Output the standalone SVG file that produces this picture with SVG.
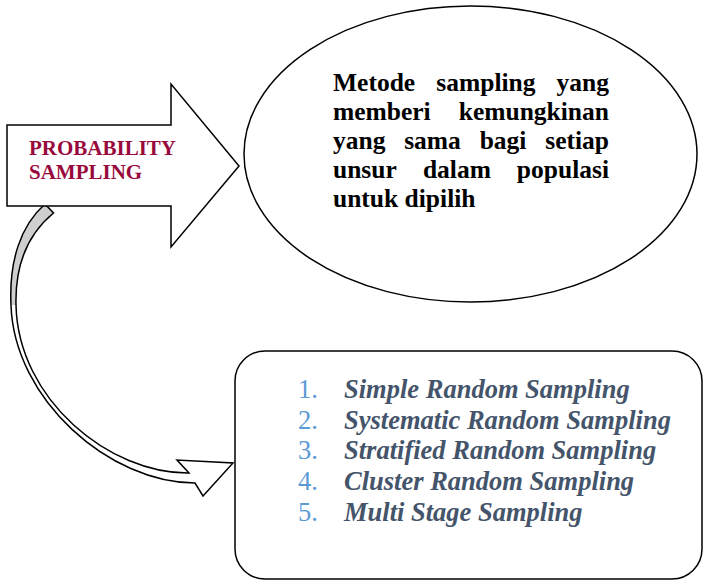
<svg xmlns="http://www.w3.org/2000/svg" width="703" height="581" viewBox="0 0 703 581">
<style>
.ln{stroke:#000;stroke-width:1.5;stroke-linejoin:miter;fill:#fff}
.lbl{font-family:"Liberation Serif","Times New Roman",serif;font-weight:bold;font-size:21px;fill:#990a3c}
.body{font-family:"Liberation Serif","Times New Roman",serif;font-weight:bold;font-size:25.5px;fill:#000}
.num{font-family:"Liberation Serif","Times New Roman",serif;font-size:26.5px;fill:#5b9bd5}
.item{font-family:"Liberation Serif","Times New Roman",serif;font-weight:bold;font-style:italic;font-size:26.5px;fill:#44546a}
</style>
<rect width="703" height="581" fill="#fff"/>
<g id="connectors">
<path class="ln" style="fill:#cfcfcf" d="M11,305 C9,262 20,226 45,204 L53.5,213 C28,234 15,265 16,305"/>
<path class="ln" d="M16,305 C18,400 110,474 189,473 L177,460 L233,463 L203,496 L195,483 C110,483 14,400 11,305"/>
</g>
<g id="probability-sampling">
<polygon class="ln" points="7,125 171,125 171,84 239,166 171,247 171,206 7,206"/>
<text class="lbl" x="29" y="155">PROBABILITY</text>
<text class="lbl" x="29" y="178.5">SAMPLING</text>
</g>
<g id="definition">
<ellipse class="ln" cx="470.5" cy="154" rx="226.5" ry="148"/>
<text class="body">
<tspan x="333" y="91">Metode</tspan><tspan x="436.3" y="91">sampling</tspan><tspan x="609" y="91" text-anchor="end">yang</tspan>
</text>
<text class="body">
<tspan x="333" y="120">memberi</tspan><tspan x="609" y="120" text-anchor="end">kemungkinan</tspan>
</text>
<text class="body">
<tspan x="333" y="149">yang</tspan><tspan x="404.2" y="149">sama</tspan><tspan x="479.7" y="149">bagi</tspan><tspan x="609" y="149" text-anchor="end">setiap</tspan>
</text>
<text class="body">
<tspan x="333" y="178">unsur</tspan><tspan x="422.9" y="178">dalam</tspan><tspan x="609" y="178" text-anchor="end">populasi</tspan>
</text>
<text class="body" x="333" y="207">untuk dipilih</text>
</g>
<g id="methods">
<rect class="ln" x="235" y="351" width="467" height="228" rx="30" ry="30"/>
<text class="num" x="298" y="398">1.</text>
<text class="item" x="344" y="398">Simple Random Sampling</text>
<text class="num" x="298" y="428.7">2.</text>
<text class="item" x="344" y="428.7">Systematic Random Sampling</text>
<text class="num" x="298" y="459.4">3.</text>
<text class="item" x="344" y="459.4">Stratified Random Sampling</text>
<text class="num" x="298" y="490.1">4.</text>
<text class="item" x="344" y="490.1">Cluster Random Sampling</text>
<text class="num" x="298" y="520.8">5.</text>
<text class="item" x="344" y="520.8">Multi Stage Sampling</text>
</g>
</svg>
